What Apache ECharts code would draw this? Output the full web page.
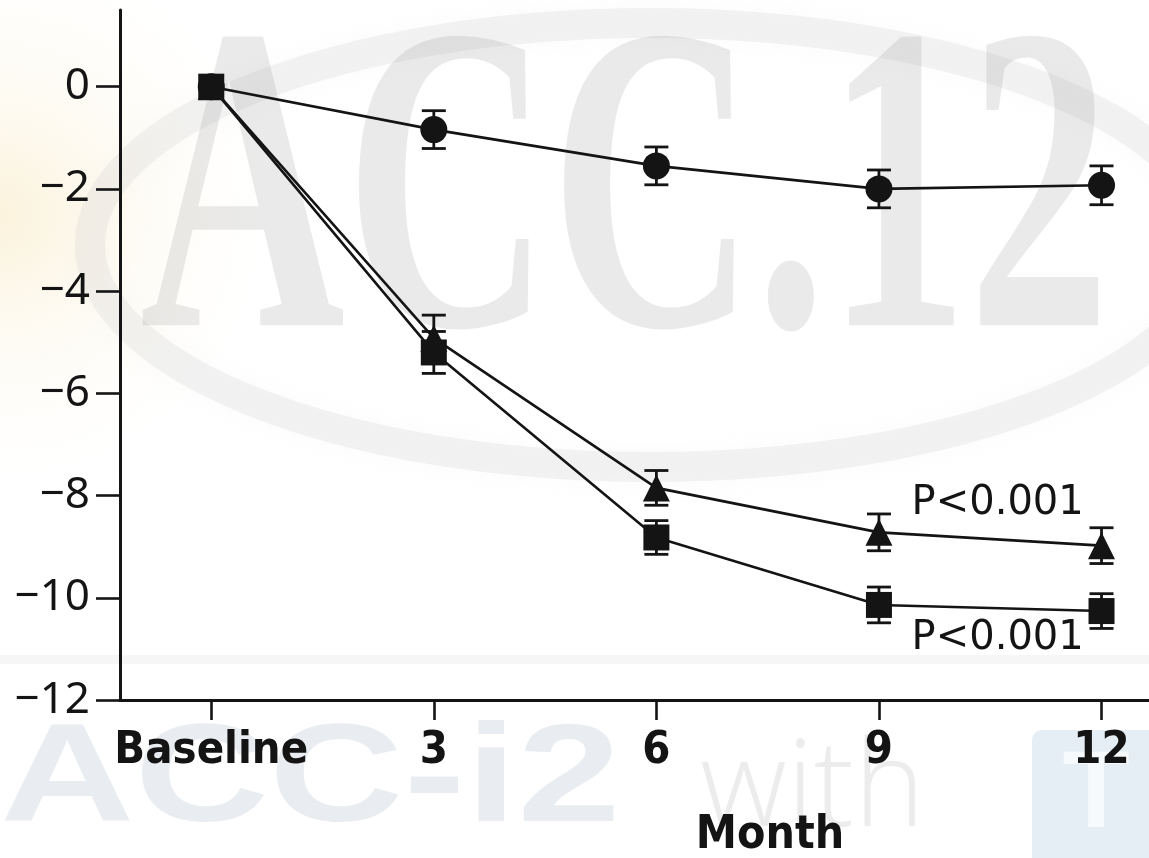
<!DOCTYPE html>
<html>
<head>
<meta charset="utf-8">
<script src="https://cdn.jsdelivr.net/npm/echarts@6/dist/echarts.min.js"></script>
<style>
  html, body { margin: 0; padding: 0; background: #ffffff; }
  #chart { width: 1149px; height: 858px; }
</style>
</head>
<body>
<div id="chart"></div>
<script>
// Months of follow-up
const months = [0, 3, 6, 9, 12];
const xTickLabels = ['Baseline', '3', '6', '9', '12'];
const yTickValues = [0, -2, -4, -6, -8, -10, -12];

// Mean change from baseline, one array per group
const circleMeans   = [0, -0.84, -1.55, -2.00, -1.93];
const circleErr     = [0, 0.37, 0.37, 0.37, 0.38];
const triangleMeans = [0, -4.92, -7.85, -8.72, -8.98];
const triangleErr   = [0, 0.45, 0.34, 0.36, 0.35];
const squareMeans   = [0, -5.20, -8.82, -10.14, -10.26];
const squareErr     = [0, 0.41, 0.33, 0.35, 0.34];

// P-value annotations: [month, value, text]
const pLabels = [
  [10.6, -8.16, 'P<0.001'],
  [10.6, -10.80, 'P<0.001']
];

const INK = '#141414';

function pairs(means) {
  return months.map((m, i) => [m, means[i]]);
}
function errRows(means, errs) {
  return months.map((m, i) => [m, means[i] - errs[i], means[i] + errs[i]]).filter((r, i) => errs[i] > 0);
}

function errorBarSeries(rows) {
  return {
    type: 'custom',
    data: rows,
    z: 3,
    silent: true,
    renderItem: function (params, api) {
      const x = api.value(0);
      const lo = api.coord([x, api.value(1)]);
      const hi = api.coord([x, api.value(2)]);
      const half = 12;
      const style = { stroke: INK, lineWidth: 2.8 };
      return {
        type: 'group',
        children: [
          { type: 'line', shape: { x1: lo[0], y1: lo[1], x2: hi[0], y2: hi[1] }, style },
          { type: 'line', shape: { x1: lo[0] - half, y1: lo[1], x2: lo[0] + half, y2: lo[1] }, style },
          { type: 'line', shape: { x1: hi[0] - half, y1: hi[1], x2: hi[0] + half, y2: hi[1] }, style }
        ]
      };
    }
  };
}

function lineSeries(means, symbol, size, z) {
  return {
    type: 'line',
    data: pairs(means),
    symbol: symbol,
    symbolSize: size,
    showAllSymbol: true,
    z: z,
    lineStyle: { color: INK, width: 2.6 },
    itemStyle: { color: INK, borderWidth: 0 },
    emphasis: { disabled: true },
    animation: false
  };
}

const chart = echarts.init(document.getElementById('chart'), null, { renderer: 'canvas' });

// Faint background lettering
const backdrop = [
  {
    type: 'rect', z: -30, silent: true,
    shape: { x: 0, y: 0, width: 1149, height: 858 },
    style: {
      fill: new echarts.graphic.RadialGradient(0.0, 0.25, 0.35, [
        { offset: 0, color: 'rgba(248,232,190,0.55)' },
        { offset: 1, color: 'rgba(255,255,255,0)' }
      ])
    }
  },
  {
    type: 'ellipse', z: -20, silent: true,
    shape: { cx: 650, cy: 245, rx: 560, ry: 222 },
    style: {
      fill: 'none',
      stroke: 'rgba(205,205,205,0.22)',
      lineWidth: 30, shadowBlur: 25, shadowColor: 'rgba(210,210,210,0.4)'
    }
  },
  {
    type: 'text', z: -15, silent: true,
    x: 140, y: 431, scaleX: 1, scaleY: 1.54, originX: 0, originY: 0,
    style: {
      text: 'ACC.12',
      font: 'bold 284px "Liberation Serif", "DejaVu Serif", serif',
      fill: 'rgba(150,150,150,0.2)',
      textAlign: 'left', textVerticalAlign: 'bottom'
    }
  },
  {
    type: 'rect', z: -15, silent: true,
    shape: { x: 0, y: 655, width: 1149, height: 9 },
    style: { fill: 'rgba(200,200,200,0.16)' }
  },
  {
    type: 'text', z: -15, silent: true,
    x: 0, y: 852, scaleX: 1.33, scaleY: 1, originX: 0, originY: 0,
    style: {
      text: 'ACC-i2',
      font: 'bold 140px "Liberation Sans", Arial, sans-serif',
      fill: 'rgba(170,185,200,0.26)',
      textAlign: 'left', textVerticalAlign: 'bottom'
    }
  },
  {
    type: 'text', z: -15, silent: true,
    x: 700, y: 852,
    style: {
      text: 'with',
      font: '300 120px "Open Sans", "Liberation Sans", sans-serif',
      fill: 'rgba(170,170,170,0.22)',
      textAlign: 'left', textVerticalAlign: 'bottom'
    }
  },
  {
    type: 'rect', z: -15, silent: true,
    shape: { x: 1032, y: 730, width: 130, height: 140, r: 10 },
    style: { fill: 'rgba(175,200,225,0.32)' }
  },
  {
    type: 'text', z: -14, silent: true,
    x: 1096, y: 852,
    style: {
      text: 'T',
      font: 'bold 110px "Liberation Sans", sans-serif',
      fill: 'rgba(255,255,255,0.7)',
      textAlign: 'center', textVerticalAlign: 'bottom'
    }
  }
];

const option = {
  animation: false,
  backgroundColor: '#ffffff',
  grid: { left: 120, right: 0, top: 10, bottom: 158, containLabel: false },
  xAxis: {
    type: 'value',
    min: -1.23,
    max: 12.64,
    splitLine: { show: false },
    axisLine: { show: true, onZero: false, lineStyle: { color: INK, width: 3 } },
    axisTick: { show: true, inside: false, length: 20, customValues: months, lineStyle: { color: INK, width: 2.6 } },
    axisLabel: {
      customValues: months,
      margin: 29,
      color: INK,
      fontSize: 45,
      fontWeight: 'bold',
      fontFamily: '"Liberation Sans Narrow", "DejaVu Sans Condensed", "DejaVu Sans", sans-serif',
      formatter: function (v) {
        const i = months.indexOf(v);
        return i >= 0 ? xTickLabels[i] : '';
      }
    }
  },
  yAxis: {
    type: 'value',
    min: -12,
    max: 1.5,
    splitLine: { show: false },
    axisLine: { show: true, onZero: false, lineStyle: { color: INK, width: 3 } },
    axisTick: { show: true, inside: false, length: 24, customValues: yTickValues, lineStyle: { color: INK, width: 2.6 } },
    axisLabel: {
      customValues: yTickValues,
      margin: 30,
      color: INK,
      fontSize: 44,
      fontFamily: '"Noto Sans", "DejaVu Sans", sans-serif',
      formatter: function (v) {
        return v < 0 ? '\u2212' + Math.abs(v) : String(v);
      }
    }
  },
  series: [
    lineSeries(circleMeans, 'circle', 27, 4),
    errorBarSeries(errRows(circleMeans, circleErr)),
    lineSeries(triangleMeans, 'triangle', 27, 5),
    errorBarSeries(errRows(triangleMeans, triangleErr)),
    lineSeries(squareMeans, 'rect', 26, 6),
    errorBarSeries(errRows(squareMeans, squareErr))
  ],
  graphic: backdrop
};

chart.setOption(option);

// Axis title and P-value notes placed through the chart's own coordinate system
const notes = pLabels.map(function (p) {
  const pt = chart.convertToPixel({ gridIndex: 0 }, [p[0], p[1]]);
  return {
    type: 'text', z: 10, silent: true,
    x: pt[0], y: pt[1],
    style: {
      text: p[2],
      font: '40px "DejaVu Sans", sans-serif',
      fill: INK,
      textAlign: 'center', textVerticalAlign: 'middle'
    }
  };
});
notes.push({
  type: 'text', z: 10, silent: true,
  x: 770, y: 836,
  style: {
    text: 'Month',
    font: 'bold 46px "DejaVu Sans Condensed", "DejaVu Sans", sans-serif',
    fill: INK,
    textAlign: 'center', textVerticalAlign: 'middle'
  }
});
chart.setOption({ graphic: backdrop.concat(notes) });
</script>
</body>
</html>
